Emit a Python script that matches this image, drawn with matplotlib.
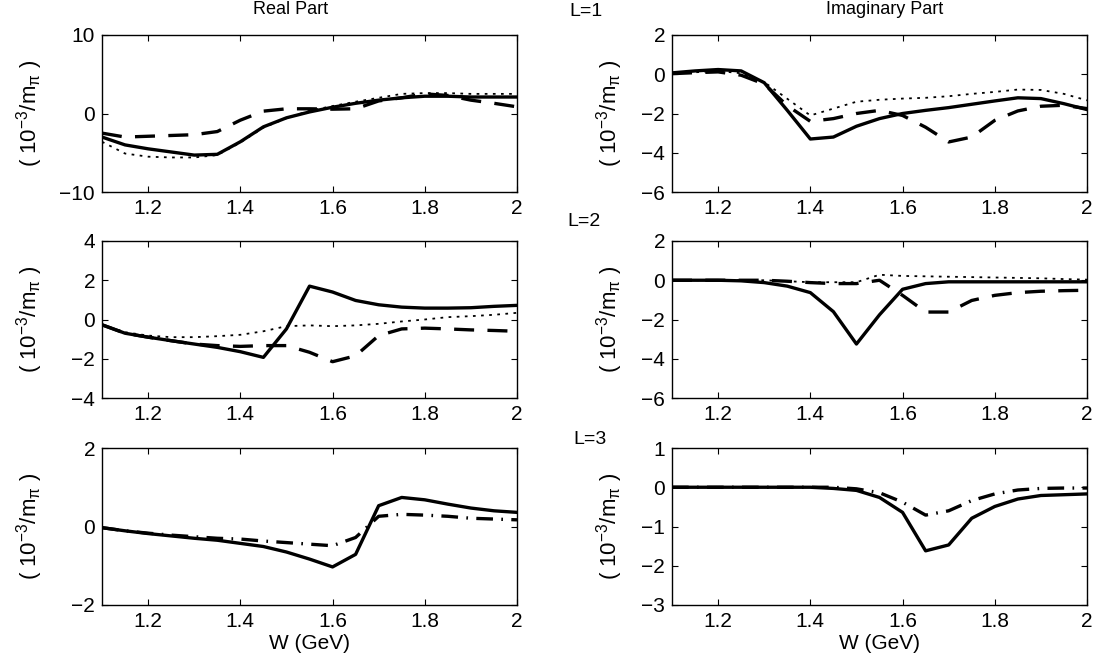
import matplotlib
matplotlib.use("Agg")
import matplotlib.pyplot as plt

plt.rcParams["font.family"] = ["Liberation Sans", "DejaVu Sans"]
plt.rcParams["mathtext.fontset"] = "custom"
plt.rcParams["mathtext.rm"] = "Liberation Sans"
plt.rcParams["mathtext.it"] = "Liberation Sans"
plt.rcParams["mathtext.bf"] = "Liberation Sans:bold"

# W grid (GeV)
W = [1.10, 1.15, 1.20, 1.25, 1.30, 1.35, 1.40, 1.45, 1.50, 1.55,
     1.60, 1.65, 1.70, 1.75, 1.80, 1.85, 1.90, 1.95, 2.00]

# L=1, real part
re1_solid = [-3.0, -4.0, -4.5, -4.9, -5.3, -5.2, -3.6, -1.7, -0.55, 0.2,
             0.8, 1.3, 1.7, 2.0, 2.2, 2.2, 2.1, 2.1, 2.1]
re1_dash = [-2.5, -3.0, -2.9, -2.8, -2.7, -2.3, -0.85, 0.3, 0.6, 0.6,
            0.55, 0.6, 1.6, 2.0, 2.5, 2.3, 1.7, 1.3, 0.85]
re1_dot = [-3.6, -5.1, -5.5, -5.6, -5.6, -5.3, -3.7, -1.8, -0.6, 0.35,
           0.95, 1.5, 2.0, 2.5, 2.6, 2.6, 2.5, 2.5, 2.5]

# L=1, imaginary part
im1_solid = [0.07, 0.17, 0.24, 0.17, -0.43, -1.84, -3.3, -3.2, -2.65, -2.26,
             -2.0, -1.84, -1.7, -1.53, -1.36, -1.2, -1.24, -1.5, -1.8]
im1_dash = [0.03, 0.08, 0.12, -0.05, -0.5, -1.6, -2.4, -2.26, -2.0, -1.84,
            -2.1, -2.7, -3.45, -3.2, -2.35, -1.87, -1.63, -1.58, -1.75]
im1_dot = [0.03, 0.1, 0.17, 0.05, -0.4, -1.25, -2.1, -1.75, -1.4, -1.3,
           -1.24, -1.2, -1.12, -1.0, -0.9, -0.78, -0.8, -1.0, -1.33]

# L=2, real part
re2_solid = [-0.27, -0.7, -0.9, -1.08, -1.25, -1.42, -1.64, -1.93, -0.48, 1.7,
             1.4, 0.97, 0.75, 0.63, 0.58, 0.58, 0.6, 0.67, 0.72]
re2_dash = [-0.27, -0.7, -0.9, -1.08, -1.25, -1.33, -1.37, -1.33, -1.33, -1.67,
            -2.15, -1.85, -0.82, -0.48, -0.44, -0.48, -0.53, -0.56, -0.6]
re2_dot = [-0.27, -0.65, -0.82, -0.9, -0.9, -0.85, -0.78, -0.6, -0.34, -0.3,
           -0.34, -0.3, -0.22, -0.1, 0.0, 0.12, 0.17, 0.24, 0.34]

# L=2, imaginary part
im2_solid = [0.0, 0.0, 0.0, -0.03, -0.12, -0.3, -0.63, -1.6, -3.25, -1.76,
             -0.46, -0.17, -0.08, -0.08, -0.08, -0.08, -0.08, -0.08, -0.08]
im2_dash = [0.0, 0.0, 0.0, 0.0, 0.0, -0.05, -0.12, -0.17, -0.17, 0.0,
            -0.77, -1.62, -1.62, -1.03, -0.77, -0.63, -0.56, -0.53, -0.51]
im2_dot = [0.0, 0.0, 0.0, 0.0, 0.0, -0.05, -0.1, -0.1, -0.1, 0.28,
           0.22, 0.2, 0.18, 0.16, 0.14, 0.12, 0.1, 0.06, 0.03]

# L=3, real part
re3_solid = [-0.03, -0.11, -0.18, -0.24, -0.3, -0.35, -0.43, -0.51, -0.65, -0.83,
             -1.03, -0.71, 0.53, 0.74, 0.68, 0.57, 0.47, 0.4, 0.36]
re3_dashdot = [-0.03, -0.11, -0.17, -0.22, -0.26, -0.3, -0.32, -0.37, -0.41, -0.45,
               -0.49, -0.28, 0.26, 0.31, 0.29, 0.26, 0.21, 0.19, 0.17]

# L=3, imaginary part
im3_solid = [0.0, 0.0, 0.0, 0.0, 0.0, 0.0, 0.0, -0.03, -0.08, -0.26,
             -0.64, -1.62, -1.47, -0.79, -0.49, -0.3, -0.21, -0.19, -0.17]
im3_dashdot = [0.0, 0.0, 0.0, 0.0, 0.0, 0.0, 0.0, 0.0, -0.04, -0.14,
               -0.38, -0.71, -0.6, -0.34, -0.17, -0.07, -0.03, -0.02, -0.02]

ylims = [(-10, 10), (-6, 2), (-4, 4), (-6, 2), (-2, 2), (-3, 1)]
yticks = [[-10, 0, 10], [-6, -4, -2, 0, 2], [-4, -2, 0, 2, 4],
          [-6, -4, -2, 0, 2], [-2, 0, 2], [-3, -2, -1, 0, 1]]

SOLID = dict(color="black", linestyle="-", linewidth=2.4)
DASH = dict(color="black", linestyle=(0, (6, 4)), linewidth=2.4)
DOT = dict(color="black", linestyle=(0, (1.5, 3)), linewidth=1.3)
DASHDOT = dict(color="black", linestyle=(0, (5, 2.5, 0.5, 2.5)), linewidth=2.4)

fig = plt.figure(figsize=(10.99, 6.70), dpi=100)

lefts = [102 / 1099, 672 / 1099]
width = 415 / 1099
bottoms = [1 - 192 / 670, 1 - 398 / 670, 1 - 605 / 670]
height = 157 / 670

panels = [
    [(re1_dot, DOT), (re1_dash, DASH), (re1_solid, SOLID)],
    [(im1_dot, DOT), (im1_dash, DASH), (im1_solid, SOLID)],
    [(re2_dot, DOT), (re2_dash, DASH), (re2_solid, SOLID)],
    [(im2_dot, DOT), (im2_dash, DASH), (im2_solid, SOLID)],
    [(re3_dashdot, DASHDOT), (re3_solid, SOLID)],
    [(im3_dashdot, DASHDOT), (im3_solid, SOLID)],
]

ylabel = r"( 10$^{-3}$/m$_{\pi}$ )"

for i, series in enumerate(panels):
    row, col = divmod(i, 2)
    ax = fig.add_axes([lefts[col], bottoms[row], width, height])
    for y, style in series:
        ax.plot(W, y, **style)
    ax.set_xlim(1.1, 2.0)
    ax.set_ylim(*ylims[i])
    ax.set_yticks(yticks[i])
    ax.set_xticks([1.2, 1.4, 1.6, 1.8, 2.0])
    ax.set_xticklabels(["1.2", "1.4", "1.6", "1.8", "2"])
    ax.tick_params(direction="in", length=4, width=0.8, labelsize=15,
                   top=True, right=True, pad=5)
    for sp in ax.spines.values():
        sp.set_linewidth(1.0)
    ax.set_ylabel(ylabel, fontsize=16)
    if col == 0:
        ax.yaxis.set_label_coords(-0.137, 0.5)
    else:
        ax.yaxis.set_label_coords(-0.113, 0.5)
    if row == 2:
        ax.set_xlabel("W (GeV)", fontsize=15, labelpad=2)

fig.text(291 / 1099, 1 - 10 / 670, "Real Part", fontsize=13, ha="center", va="center")
fig.text(885 / 1099, 1 - 10 / 670, "Imaginary Part", fontsize=13, ha="center", va="center")
fig.text(586 / 1099, 1 - 12 / 670, "L=1", fontsize=14, ha="center", va="center")
fig.text(584 / 1099, 1 - 221 / 670, "L=2", fontsize=14, ha="center", va="center")
fig.text(590 / 1099, 1 - 439 / 670, "L=3", fontsize=14, ha="center", va="center")

fig.savefig("out.png", dpi=100)
